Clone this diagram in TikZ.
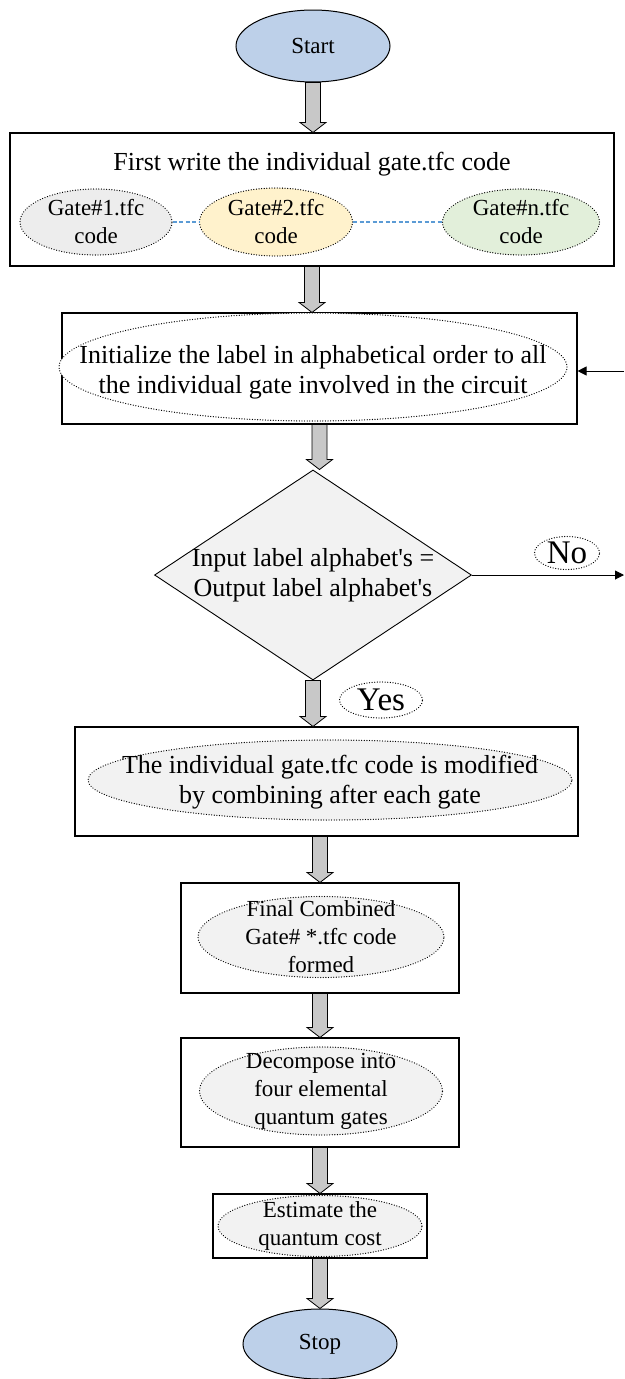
\documentclass[tikz,border=0pt]{standalone}
\usepackage{fontspec}
\setmainfont{Liberation Serif}
\usetikzlibrary{shapes.geometric,calc,arrows.meta}
\definecolor{termblue}{HTML}{BDD0E9}
\definecolor{softgray}{HTML}{F2F2F2}
\definecolor{gategray}{HTML}{EDEDED}
\definecolor{gateyellow}{HTML}{FFF2CC}
\definecolor{gategreen}{HTML}{E2EFDA}
\definecolor{linkblue}{HTML}{5B9BD5}
\definecolor{arrowgray}{HTML}{C8C8C8}
\begin{document}
\begin{tikzpicture}[x=1pt,y=-1pt,
	terminal/.style={ellipse,draw,fill=termblue,line width=1pt,minimum width=154pt,minimum height=72pt,inner sep=0pt,font=\fontsize{23}{28}\selectfont},
	stepbox/.style={draw,line width=1.1pt,inner sep=0pt},
	idea/.style={ellipse,draw,dash pattern=on 0.01pt off 2.6pt,line cap=round,line width=1.3pt,fill=softgray,inner sep=0pt},
	bigtext/.style={font=\fontsize{26}{30}\selectfont,align=center},
	smalltext/.style={font=\fontsize{23}{28}\selectfont,align=center},
	decision/.style={diamond,draw,fill=softgray,line width=0.9pt,minimum width=317pt,minimum height=210pt,inner sep=0pt},
	tag/.style={ellipse,draw,dash pattern=on 0.01pt off 2.6pt,line cap=round,line width=1.3pt,fill=white,inner sep=0pt},
	tagtext/.style={font=\fontsize{33}{36}\selectfont},
	gatelink/.style={linkblue,line width=2.2pt,dash pattern=on 4pt off 2.5pt},
	blockarrow/.style={draw,fill=arrowgray,line width=0.8pt},
	flowline/.style={line width=1pt,-{Triangle[length=9pt,width=9pt]}}
	]
	\useasboundingbox (0,0) rectangle (624,1379);
	% start
	\node[terminal] (start) at (313,46) {Start};
	% individual gate codes
	\node[stepbox,minimum width=604pt,minimum height=133pt] (write) at (312,199.5) {};
	\node[bigtext] (writetitle) at (312,164) {First write the individual gate.tfc code};
	\node[idea,fill=gategray,minimum width=152pt,minimum height=66pt,label={[smalltext]center:Gate\#1.tfc\\code}] (gate1) at (96,222) {};
	\node[idea,fill=gateyellow,minimum width=153pt,minimum height=68pt,label={[smalltext]center:Gate\#2.tfc\\code}] (gate2) at (276,222) {};
	\node[idea,fill=gategreen,minimum width=157pt,minimum height=66pt,label={[smalltext]center:Gate\#n.tfc\\code}] (gaten) at (521,222) {};
	\draw[gatelink] (gate1) -- (gate2);
	\draw[gatelink] (gate2) -- (gaten);
	% labels
	\node[stepbox,minimum width=515pt,minimum height=111pt] (init) at (319.5,368.5) {};
	\node[idea,fill=white,minimum width=508pt,minimum height=108pt,label={[bigtext,yshift=-5pt]center:Initialize the label in alphabetical order to all\\the individual gate involved in the circuit}] (initidea) at (313,367) {};
	% check
	\node[decision,label={[bigtext]center:Input label alphabet\textquotesingle s =\\Output label alphabet\textquotesingle s}] (check) at (313,575) {};
	\node[tag,minimum width=65pt,minimum height=33pt,label={[tagtext]center:No}] (no) at (567,553) {};
	\node[tag,minimum width=83pt,minimum height=36pt,label={[tagtext]center:Yes}] (yes) at (381,700) {};
	% combine
	\node[stepbox,minimum width=503pt,minimum height=109pt] (merge) at (326.5,781.5) {};
	\node[idea,minimum width=484pt,minimum height=80pt,label={[bigtext,yshift=-2pt]center:The individual gate.tfc code is modified\\by combining after each gate}] (mergeidea) at (330,780) {};
	\node[stepbox,minimum width=278pt,minimum height=110pt] (final) at (320,938) {};
	\node[idea,minimum width=246pt,minimum height=81pt,label={[smalltext]center:Final Combined\\Gate\# *.tfc code\\formed}] (finalidea) at (321,937) {};
	\node[stepbox,minimum width=278pt,minimum height=109pt] (decomp) at (320,1092.5) {};
	\node[idea,minimum width=243pt,minimum height=88pt,label={[smalltext]center:Decompose into\\four elemental\\quantum gates}] (decompidea) at (321,1091) {};
	\node[stepbox,minimum width=214pt,minimum height=64pt] (cost) at (320,1226) {};
	\node[idea,minimum width=204pt,minimum height=61pt,label={[smalltext]center:Estimate the\\quantum cost}] (costidea) at (320,1226) {};
	% stop
	\node[terminal,minimum height=70pt] (stop) at (320,1344) {Stop};
	% block arrows
	\foreach \a/\b/\dx in {start/write/0,write/init/0,init/check/0,check/merge/0,merge/final/-6.5,final/decomp/0,decomp/cost/0,cost/stop/0}
	\draw[blockarrow] let \p1=($(\a.south)+(\dx,0)$), \p2=(\b.north) in
		(\x1-7.5pt,\y1) -- (\x1+7.5pt,\y1) -- (\x1+7.5pt,\y2+10pt) -- (\x1+13pt,\y2+10pt)
		-- (\x1,\y2) -- (\x1-13pt,\y2+10pt) -- (\x1-7.5pt,\y2+10pt) -- cycle;
	% loop lines
	\coordinate (loopin) at (624,371);
	\draw[flowline] (loopin) -- (loopin -| init.east);
	\coordinate (loopout) at (624,575);
	\draw[flowline] (check.east) -- (loopout);
\end{tikzpicture}
\end{document}
